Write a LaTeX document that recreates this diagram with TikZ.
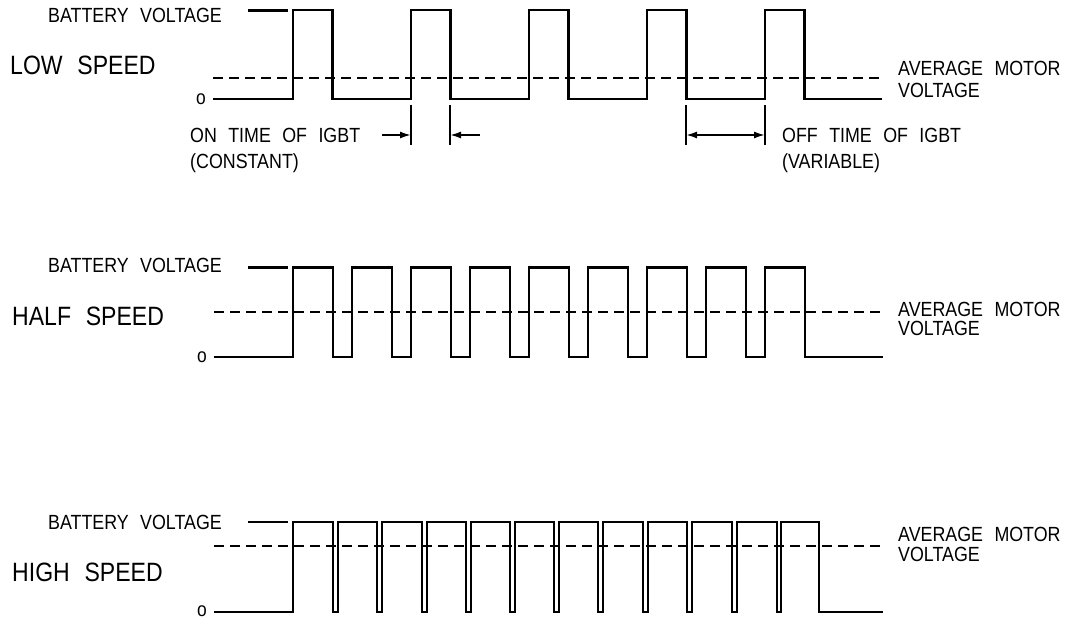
\documentclass[tikz,border=0pt]{standalone}
\usepackage{fontspec}
\setmainfont{Liberation Sans}[FakeStretch=0.87,WordSpace=2.3]
\usetikzlibrary{arrows.meta}
\begin{document}
\begin{tikzpicture}[x=1pt,y=-1pt,
  wave/.style={line width=2.2pt, line join=miter},
  avg/.style={line width=1.8pt, dash pattern=on 10pt off 6pt},
  lbl/.style={inner sep=0pt, anchor=base west, font=\fontsize{20.5}{22}\selectfont},
  big/.style={inner sep=0pt, anchor=base west, font=\fontsize{26.5}{28}\selectfont},
  zero/.style={inner sep=0pt, font=\fontsize{20}{22}\selectfont},
  ext/.style={line width=1.3pt},
  dim/.style={line width=1.8pt},
  tip/.style={-{Latex[length=11pt,width=7pt]}},
  tips/.style={{Latex[length=11pt,width=7pt]}-{Latex[length=11pt,width=7pt]}}
]
\fill[white] (0,0) rectangle (1070,620);
\useasboundingbox (0,0) rectangle (1070,620);

% ---------------- LOW SPEED ----------------
\node[big] (low) at (10,75) {LOW SPEED};
\node[lbl] (bv1) at (48,22.7) {BATTERY VOLTAGE};
\draw[wave] (248,10.5) -- (288,10.5);
\node[zero] (z1) at (201,99) {o};
\draw[wave] (213,99) foreach \r in {293,411,529,647,765} { -- (\r,99) -- (\r,10) -- (\r+39.5,10) -- (\r+39.5,99) } -- (882,99);
\draw[avg] (213,78) -- (882,78);
\node[lbl] (am1) at (898,75.5) {AVERAGE MOTOR};
\node[lbl] (vo1) at (898,97.5) {VOLTAGE};

\node[lbl] (on1) at (190,143) {ON TIME OF IGBT};
\node[lbl] (on2) at (190,169) {(CONSTANT)};
\node[lbl] (off1) at (782,143) {OFF TIME OF IGBT};
\node[lbl] (off2) at (782,168.5) {(VARIABLE)};

\coordinate (e1t) at (411,105); \coordinate (e1b) at (411,145);
\coordinate (e2t) at (450,105); \coordinate (e2b) at (450,145);
\coordinate (e3t) at (686,105); \coordinate (e3b) at (686,145);
\coordinate (e4t) at (765,105); \coordinate (e4b) at (765,145);
\draw[ext] (e1t) -- (e1b);
\draw[ext] (e2t) -- (e2b);
\draw[ext] (e3t) -- (e3b);
\draw[ext] (e4t) -- (e4b);
\coordinate (a1s) at (382,135); \coordinate (a1e) at (411,135);
\coordinate (a2s) at (480,135); \coordinate (a2e) at (450,135);
\coordinate (a3s) at (686,135); \coordinate (a3e) at (765,135);
\draw[dim,tip] (a1s) -- (a1e);
\draw[dim,tip] (a2s) -- (a2e);
\draw[dim,tips] (a3s) -- (a3e);

% ---------------- HALF SPEED ----------------
\node[big] (half) at (12,325) {HALF SPEED};
\node[lbl] (bv2) at (48,272.7) {BATTERY VOLTAGE};
\draw[wave] (248,267.5) -- (288,267.5);
\node[zero] (z2) at (202,357) {o};
\draw[wave] (214,357) foreach \r in {293,352,411,470,529,588,647,706,765} { -- (\r,357) -- (\r,267.5) -- (\r+40,267.5) -- (\r+40,357) } -- (883,357);
\draw[avg] (214,312) -- (883,312);
\node[lbl] (am2) at (898,316) {AVERAGE MOTOR};
\node[lbl] (vo2) at (898,335) {VOLTAGE};

% ---------------- HIGH SPEED ----------------
\node[big] (high) at (12,581.5) {HIGH SPEED};
\node[lbl] (bv3) at (48,529) {BATTERY VOLTAGE};
\draw[wave] (248,522) -- (288,522);
\node[zero] (z3) at (202,611) {o};
\draw[wave] (214,612) foreach \r/\f in {293/333,338/377,382/422,427/466,471/510,515/554,559/598,603/643,648/687,692/732,737/777,781/819} { -- (\r,612) -- (\r,522) -- (\f,522) -- (\f,612) } -- (883,612);
\draw[avg] (214,546) -- (883,546);
\node[lbl] (am3) at (898,541) {AVERAGE MOTOR};
\node[lbl] (vo3) at (898,561) {VOLTAGE};
\end{tikzpicture}
\end{document}
